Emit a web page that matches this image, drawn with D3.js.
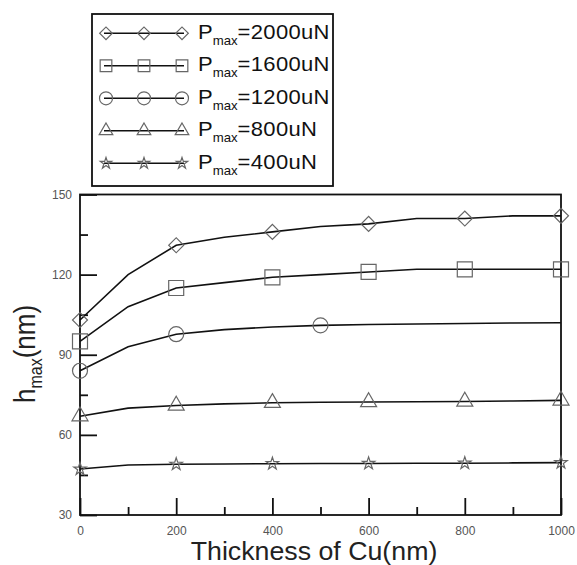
<!DOCTYPE html>
<html lang="en">
<head>
<meta charset="UTF-8">
<title>h_max vs thickness of Cu</title>
<script src="https://d3js.org/d3.v7.min.js"></script>
<style>
  body { margin: 0; background: #fff; }
  text { font-family: Arial, "Liberation Sans", sans-serif; }
</style>
</head>
<body>
<svg></svg>
<script>
// data
const thickness = [0, 100, 200, 300, 400, 500, 600, 700, 800, 900, 1000];
const h2000 = [103, 120, 131, 134, 136, 138, 139, 141, 141, 142, 142];
const h1600 = [95, 108, 115, 117, 119, 120, 121, 122, 122, 122, 122];
const h1200 = [84, 93, 97.7, 99.4, 100.4, 101, 101.3, 101.5, 101.7, 101.9, 102];
const h800 = [67, 70, 71, 71.6, 72, 72.2, 72.3, 72.4, 72.5, 72.7, 72.9];
const h400 = [47.2, 48.7, 49, 49.1, 49.2, 49.3, 49.3, 49.4, 49.4, 49.5, 49.6];
const markerX = [0, 200, 400, 600, 800, 1000];
const markerX1200 = [0, 200, 500];
const loads = ["2000", "1600", "1200", "800", "400"];
const yTicks = [30, 60, 90, 120, 150];
const yMinor = [45, 75, 105, 135];
const xTicks = [0, 200, 400, 600, 800, 1000];
const xMinor = [100, 300, 500, 700, 900];

const width = 577, height = 565;
const svg = d3.select("svg").attr("width", width).attr("height", height);

const x = d3.scaleLinear().domain([0, 1000]).range([80, 561]);
const y = d3.scaleLinear().domain([30, 150]).range([515, 194.5]);

const series = [
  {load: loads[0], values: h2000, marks: markerX, sym: "diamond"},
  {load: loads[1], values: h1600, marks: markerX, sym: "square"},
  {load: loads[2], values: h1200, marks: markerX1200, sym: "circle"},
  {load: loads[3], values: h800, marks: markerX, sym: "triangle"},
  {load: loads[4], values: h400, marks: markerX, sym: "star"}
];

const symbols = {
  diamond: {type: d3.symbolSquare, size: 112, rot: 45, lsize: 80},
  square: {type: d3.symbolSquare, size: 225, rot: 0, lsize: 136},
  circle: {type: d3.symbolCircle, size: 177, rot: 0, lsize: 133},
  triangle: {type: d3.symbolTriangle, size: 111, rot: 0, lsize: 80},
  star: {type: d3.symbolStar, size: 48, rot: 0, lsize: 40}
};

// axes (ticks point inward)
const fmt = d3.format("d");
const gy = svg.append("g").attr("transform", `translate(${x(0)},0)`)
  .call(d3.axisLeft(y).tickValues(yTicks).tickFormat(fmt).tickSizeInner(-17).tickSizeOuter(0).tickPadding(8));
const gyMinor = svg.append("g").attr("transform", `translate(${x(0)},0)`)
  .call(d3.axisLeft(y).tickValues(yMinor).tickFormat("").tickSizeInner(-8).tickSizeOuter(0));
const gx = svg.append("g").attr("transform", `translate(0,${y(30)})`)
  .call(d3.axisBottom(x).tickValues(xTicks).tickFormat(fmt).tickSizeInner(-17).tickSizeOuter(0).tickPadding(11));
const gxMinor = svg.append("g").attr("transform", `translate(0,${y(30)})`)
  .call(d3.axisBottom(x).tickValues(xMinor).tickFormat("").tickSizeInner(-8).tickSizeOuter(0));

[gy, gyMinor, gx, gxMinor].forEach(g => {
  g.select(".domain").remove();
  g.selectAll(".tick line").attr("stroke", "#111").attr("stroke-width", 1.8);
  g.selectAll(".tick text").attr("font-size", 12).attr("fill", "#555")
    .attr("font-family", "Arial, 'Liberation Sans', sans-serif");
});

// frame
svg.append("rect")
  .attr("x", x(0)).attr("y", y(150))
  .attr("width", x(1000) - x(0)).attr("height", y(30) - y(150))
  .attr("fill", "none").attr("stroke", "#111").attr("stroke-width", 1.8);

// lines
const line = d3.line().x((d, i) => x(thickness[i])).y(d => y(d));
svg.append("g").selectAll("path")
  .data(series)
  .join("path")
  .attr("d", d => line(d.values))
  .attr("fill", "none")
  .attr("stroke", "#111")
  .attr("stroke-width", 1.6);

// markers
series.forEach(s => {
  const sp = symbols[s.sym];
  svg.append("g").selectAll("path")
    .data(s.marks)
    .join("path")
    .attr("transform", t => `translate(${x(t)},${y(s.values[thickness.indexOf(t)])}) rotate(${sp.rot})`)
    .attr("d", d3.symbol().type(sp.type).size(sp.size))
    .attr("fill", "none")
    .attr("stroke", "#666")
    .attr("stroke-width", 1.2);
});

// axis titles
svg.append("text")
  .attr("transform", "translate(314,560) scale(1.07,1)")
  .attr("text-anchor", "middle")
  .attr("font-size", 25)
  .attr("fill", "#222")
  .text("Thickness of Cu(nm)");

const yt = svg.append("text")
  .attr("transform", "translate(35,354) scale(1.15,1) rotate(-90)")
  .attr("text-anchor", "middle")
  .attr("font-size", 26)
  .attr("fill", "#222");
yt.append("tspan").text("h");
yt.append("tspan").attr("font-size", 16).attr("dy", 6).text("max");
yt.append("tspan").attr("dy", -6).text("(nm)");

// legend
const legend = svg.append("g");
legend.append("rect")
  .attr("x", 92).attr("y", 14).attr("width", 241).attr("height", 172)
  .attr("fill", "#fff").attr("stroke", "#111").attr("stroke-width", 1.8);

series.forEach((s, i) => {
  const ly = 33.3 + i * 32.5;
  const sp = symbols[s.sym];
  const row = legend.append("g");
  row.append("line")
    .attr("x1", 104).attr("x2", 184).attr("y1", ly).attr("y2", ly)
    .attr("stroke", "#111").attr("stroke-width", 1.5);
  row.selectAll("path")
    .data([106, 144, 182])
    .join("path")
    .attr("transform", px => `translate(${px},${ly}) rotate(${sp.rot})`)
    .attr("d", d3.symbol().type(sp.type).size(sp.lsize))
    .attr("fill", "none")
    .attr("stroke", "#666")
    .attr("stroke-width", 1.2);
  const t = row.append("text")
    .attr("transform", `translate(198,${ly + 5.5}) scale(1.1,1)`)
    .attr("font-size", 20)
    .attr("fill", "#111");
  t.append("tspan").text("P");
  t.append("tspan").attr("font-size", 12).attr("dy", 6).text("max");
  t.append("tspan").attr("dy", -6).attr("letter-spacing", 0.3).text(`=${s.load}uN`);
});
</script>
</body>
</html>
